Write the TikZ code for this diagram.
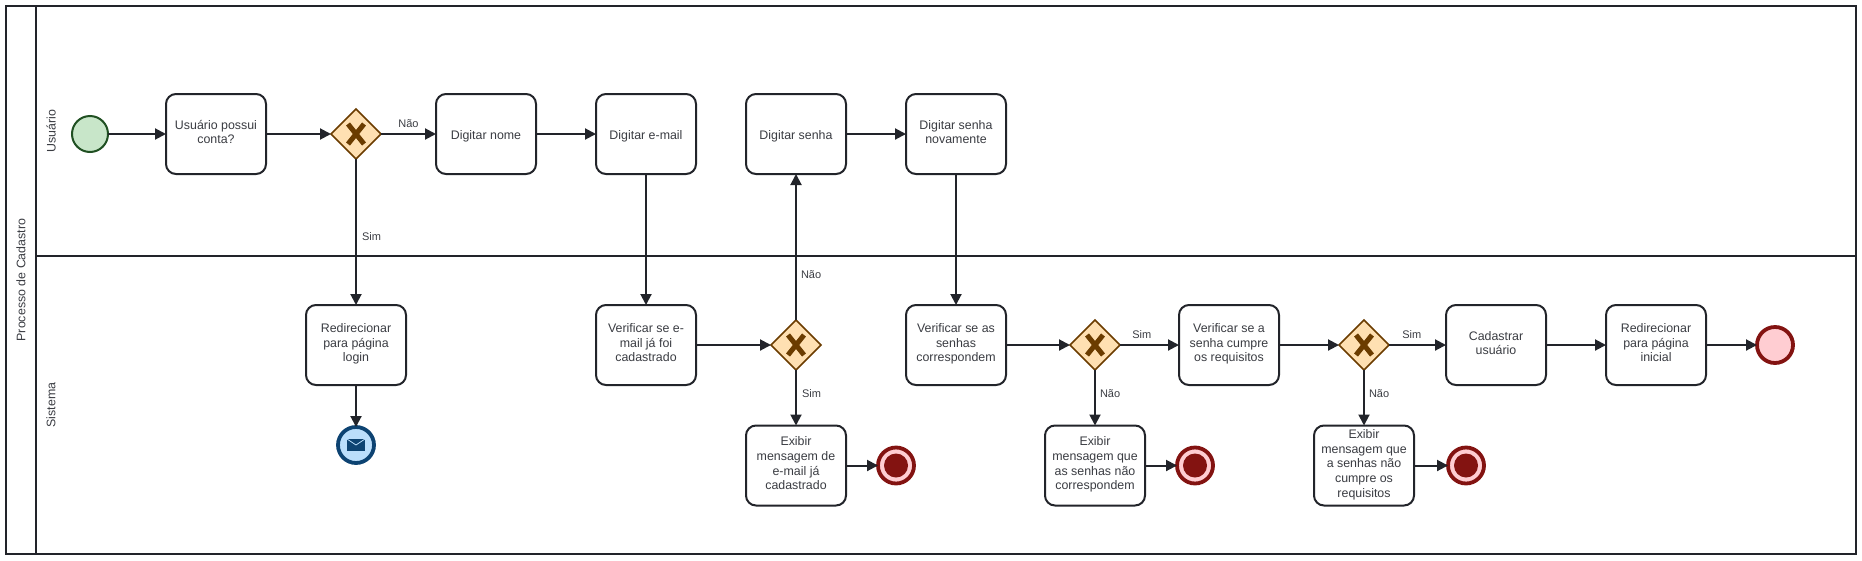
\documentclass[tikz,border=0pt]{standalone}
\usepackage{fontspec}
\setmainfont{Liberation Sans}
\usepackage{xcolor}
\usetikzlibrary{positioning, shapes.geometric, arrows.meta}
\definecolor{ink}{HTML}{22242A}
\definecolor{label}{HTML}{3A3C42}
\definecolor{startfill}{HTML}{C8E6C9}
\definecolor{startline}{HTML}{205022}
\definecolor{gatefill}{HTML}{FFE0B2}
\definecolor{gateline}{HTML}{6B3C00}
\definecolor{endfill}{HTML}{FFCDD2}
\definecolor{endline}{HTML}{831311}
\definecolor{mailfill}{HTML}{BBDEFB}
\definecolor{mailline}{HTML}{0D4372}

\begin{document}
\begin{tikzpicture}
[
    x = 1pt, y = -1pt,
    every node/.style={font=\fontsize{12.4}{14.6}\selectfont, text=label, outer sep = 0pt},
    task/.style={rectangle, draw = ink, fill = white, line width = 2pt, rounded corners = 10pt, minimum width = 100pt, minimum height = 80pt, inner sep = 0pt, align = center,
        execute at begin node={\rule{0pt}{15.2pt}}, execute at end node=\strut},
    gate/.style={diamond, draw = gateline, fill = gatefill, line width = 1.6pt, minimum size = 50pt, inner sep = 0pt,
        path picture={\draw[gateline, line width = 5pt] ([shift={(-8,-10)}]path picture bounding box.center) -- ([shift={(8,10)}]path picture bounding box.center)
            ([shift={(8,-10)}]path picture bounding box.center) -- ([shift={(-8,10)}]path picture bounding box.center);}},
    startev/.style={circle, draw = startline, fill = startfill, line width = 2pt, minimum size = 36pt, inner sep = 0pt},
    endev/.style={circle, draw = endline, fill = endfill, line width = 3.8pt, minimum size = 36pt, inner sep = 0pt},
    stopev/.style={endev, path picture={\fill[endline] (path picture bounding box.center) circle (12pt);}},
    mailev/.style={circle, draw = mailline, fill = mailfill, line width = 3.8pt, minimum size = 36pt, inner sep = 0pt,
        path picture={\fill[mailline] ([shift={(-9,-6)}]path picture bounding box.center) rectangle ([shift={(9,6)}]path picture bounding box.center);
            \draw[mailfill, line width = .8pt] ([shift={(-9,-6)}]path picture bounding box.center) -- ([shift={(0,0)}]path picture bounding box.center) -- ([shift={(9,-6)}]path picture bounding box.center);}},
    lanetext/.style={rotate = 90, inner sep = 0pt},
    lane/.style={draw = ink, line width = 2pt},
    edgetext/.style={inner sep = 0pt, font=\fontsize{11}{14}\selectfont},
    arrow/.style={draw = ink, line width = 2pt, -{Triangle[length = 11pt, width = 11pt]}},
]
\useasboundingbox (0,0) rectangle (1862,560);

% Pool and its two lanes
\node[rectangle, lane, minimum width = 1850pt, minimum height = 548pt, inner sep = 0pt] (pool) at (931,280) {};
\coordinate (headtop) at (36,6);
\coordinate (headbot) at (36,554);
\coordinate (midleft) at (36,256);
\coordinate (midright) at (1856,256);
\draw[lane] (headtop) -- (headbot);
\draw[lane] (midleft) -- (midright);
\node[lanetext] (poolname) at (21,280) {Processo de Cadastro};
\node[lanetext] (usuario) at (51,131) {Usuário};
\node[lanetext] (sistema) at (51,405) {Sistema};

% Usuario lane
\node[startev] (inicio) at (90,134) {};
\node[task, right = 58pt of inicio] (possui) {Usuário possui\\conta?};
\node[gate, right = 65pt of possui] (gconta) {};
\node[task, right = 55pt of gconta] (nome) {Digitar nome};
\node[task, right = 60pt of nome] (email) {Digitar e-mail};
\node[task, right = 50pt of email] (senha) {Digitar senha};
\node[task, right = 60pt of senha] (senhanov) {Digitar senha\\novamente};

% Sistema lane
\node[task, below = 146pt of gconta] (login) {Redirecionar\\para página\\login};
\node[mailev, below = 42pt of login] (mail) {};
\node[task, below = 131pt of email] (vemail) {Verificar se e-\\mail já foi\\cadastrado};
\node[gate, right = 75pt of vemail] (gemail) {};
\node[task, below = 55.5pt of gemail] (xemail) {Exibir\\mensagem de\\e-mail já\\cadastrado};
\node[stopev, right = 32pt of xemail] (fimemail) {};
\node[task, below = 131pt of senhanov] (vsenhas) {Verificar se as\\senhas\\correspondem};
\node[gate, right = 64pt of vsenhas] (gsenhas) {};
\node[task, below = 55.5pt of gsenhas] (xsenhas) {Exibir\\mensagem que\\as senhas não\\correspondem};
\node[stopev, right = 32pt of xsenhas] (fimsenhas) {};
\node[task, right = 59pt of gsenhas] (vreq) {Verificar se a\\senha cumpre\\os requisitos};
\node[gate, right = 60pt of vreq] (greq) {};
\node[task, below = 55.5pt of greq] (xreq) {Exibir\\mensagem que\\a senhas não\\cumpre os\\requisitos};
\node[stopev, right = 34pt of xreq] (fimreq) {};
\node[task, right = 57pt of greq] (cadastrar) {Cadastrar\\usuário};
\node[task, right = 60pt of cadastrar] (inicial) {Redirecionar\\para página\\inicial};
\node[endev, right = 51pt of inicial] (fim) {};

% Sequence flows
\draw[arrow] (inicio) -- (possui);
\draw[arrow] (possui) -- (gconta);
\draw[arrow] (gconta) -- node[edgetext, pos = .5, above = 6pt] (naoconta) {Não} (nome);
\draw[arrow] (gconta) -- node[edgetext, pos = .53, right = 6pt] (simconta) {Sim} (login);
\draw[arrow] (nome) -- (email);
\draw[arrow] (senha) -- (senhanov);
\draw[arrow] (email) -- (vemail);
\draw[arrow] (senhanov) -- (vsenhas);
\draw[arrow] (login) -- (mail);
\draw[arrow] (vemail) -- (gemail);
\draw[arrow] (gemail) -- node[edgetext, pos = .31, right = 5pt] (naoemail) {Não} (senha);
\draw[arrow] (gemail) -- node[edgetext, pos = .42, right = 6pt] (simemail) {Sim} (xemail);
\draw[arrow] (xemail) -- (fimemail);
\draw[arrow] (vsenhas) -- (gsenhas);
\draw[arrow] (gsenhas) -- node[edgetext, pos = .37, above = 6pt] (simsenhas) {Sim} (vreq);
\draw[arrow] (gsenhas) -- node[edgetext, pos = .42, right = 5pt] (naosenhas) {Não} (xsenhas);
\draw[arrow] (xsenhas) -- (fimsenhas);
\draw[arrow] (vreq) -- (greq);
\draw[arrow] (greq) -- node[edgetext, pos = .4, above = 6pt] (simreq) {Sim} (cadastrar);
\draw[arrow] (greq) -- node[edgetext, pos = .42, right = 5pt] (naoreq) {Não} (xreq);
\draw[arrow] (xreq) -- (fimreq);
\draw[arrow] (cadastrar) -- (inicial);
\draw[arrow] (inicial) -- (fim);
\end{tikzpicture}
\end{document}
